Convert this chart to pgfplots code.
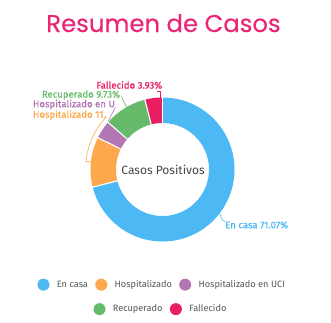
\documentclass[border=0pt]{standalone}
\usepackage{pgfplots}
\pgfplotsset{compat=1.18}
\usepackage{fontspec}
\setmainfont{Fira Sans}
\newfontfamily\titlefont{Poppins}[FakeBold=0.35]
\newfontfamily\labfont{Fira Sans}[FakeBold=0.6]
\definecolor{cblue}{HTML}{4CB8F4}
\definecolor{corange}{HTML}{FDA84C}
\definecolor{cpurple}{HTML}{B276B2}
\definecolor{cgreen}{HTML}{66BB6A}
\definecolor{cpink}{HTML}{E91E63}
\definecolor{ctitle}{HTML}{EC2577}
\definecolor{lgray}{HTML}{555555}
\definecolor{cgray}{HTML}{444444}
% percentages
\def\pA{71.07}\def\pB{11.20}\def\pC{4.07}\def\pD{9.73}\def\pE{3.93}
\pgfmathsetmacro\aA{90}
\pgfmathsetmacro\aB{\aA-3.6*\pA}
\pgfmathsetmacro\aC{\aB-3.6*\pB}
\pgfmathsetmacro\aD{\aC-3.6*\pC}
\pgfmathsetmacro\aE{\aD-3.6*\pD}
\pgfmathsetmacro\aF{\aE-3.6*\pE}
\def\cx{162.5}\def\cy{169.5}\def\rmid{59.25}
\newcommand\sep[1]{\draw[white, line width=1.1pt] (axis cs:{\cx+46*cos(#1)},{\cy-46*sin(#1)}) -- (axis cs:{\cx+73*cos(#1)},{\cy-73*sin(#1)});}
\pgfplotsset{
  mylegend/.style={
    legend style={draw=none, fill=none, inner sep=0pt, column sep=0pt, row sep=0pt,
      nodes={inner sep=0pt, text=lgray, font=\fontsize{9.2}{10}\selectfont}},
    legend cell align=left,
    legend image code/.code={\path[draw=none, fill=none] (0pt,-4pt) rectangle (26.7pt,4pt); \fill[##1, draw=none] (13.3pt,0pt) circle (6pt);},
  }
}
\begin{document}
\begin{tikzpicture}
\useasboundingbox (0,0) rectangle (331pt,322pt);
\begin{axis}[at={(0,0)}, anchor=south west, scale only axis, width=331pt, height=322pt,
  xmin=0, xmax=331, ymin=0, ymax=322, y dir=reverse, hide axis, clip=false,
  mylegend, legend columns=3,
  legend style={anchor=west, at={(0.0906,0.116)}}]
\addplot[forget plot, cblue, line width=25.5pt, domain=\aB:\aA, samples=120] ({\cx+\rmid*cos(x)},{\cy-\rmid*sin(x)});
\addplot[forget plot, corange, line width=25.5pt, domain=\aC:\aB, samples=30] ({\cx+\rmid*cos(x)},{\cy-\rmid*sin(x)});
\addplot[forget plot, cpurple, line width=25.5pt, domain=\aD:\aC, samples=15] ({\cx+\rmid*cos(x)},{\cy-\rmid*sin(x)});
\addplot[forget plot, cgreen, line width=25.5pt, domain=\aE:\aD, samples=30] ({\cx+\rmid*cos(x)},{\cy-\rmid*sin(x)});
\addplot[forget plot, cpink, line width=25.5pt, domain=\aF:\aE, samples=15] ({\cx+\rmid*cos(x)},{\cy-\rmid*sin(x)});
\sep{\aA}\sep{\aB}\sep{\aC}\sep{\aD}\sep{\aE}
% leaders
\draw[cpink, line width=0.6pt] (axis cs:156.5,91) -- (axis cs:160,91) -- (axis cs:160,98);
\draw[cgreen, line width=0.6pt] (axis cs:121.5,96.5) -- (axis cs:126.5,107);
\draw[cpurple, line width=0.6pt] (axis cs:115.5,107) -- (axis cs:108,121.5);
\draw[corange, line width=0.6pt] (axis cs:103.5,117) -- (axis cs:{\cx+77*cos(137)},{\cy-77*sin(137)}) arc[start angle=137, end angle=174, radius=77pt] -- (axis cs:91,162);
\draw[cblue, line width=0.6pt] (axis cs:219.5,212.5) -- (axis cs:222,219.5) -- (axis cs:225,222);
% labels
\node[anchor=west, inner sep=0pt, text=cpink, font=\labfont\fontsize{9.6}{10}\selectfont] at (axis cs:96.3,85) {Fallecido 3.93\%};
\node[anchor=west, inner sep=0pt, text=cgreen, font=\labfont\fontsize{9.6}{10}\selectfont] at (axis cs:41.7,95) {Recuperado 9.73\%};
\node[anchor=west, inner sep=0pt, text=cpurple, font=\labfont\fontsize{9.6}{10}\selectfont] at (axis cs:32.7,104.5) {Hospitalizado en U};
\node[anchor=west, inner sep=0pt, text=corange, font=\labfont\fontsize{9.6}{10}\selectfont] at (axis cs:32.7,115) {Hospitalizado 11};
\node[anchor=west, inner sep=0pt, text=cblue, font=\labfont\fontsize{9.6}{10}\selectfont] at (axis cs:225,225) {En casa 71.07\%};
\node[inner sep=0pt, text=cgray, font=\fontsize{12}{14}\selectfont] at (axis cs:163,170) {Casos Positivos};
% title
\node[anchor=base, inner sep=0pt, text=ctitle, font=\titlefont\fontsize{24.3}{28}\selectfont] at (axis cs:163.5,32) {Resumen de Casos};
% legend row 1
\addlegendimage{cblue}\addlegendentry{En casa}
\addlegendimage{corange}\addlegendentry{Hospitalizado}
\addlegendimage{cpurple}\addlegendentry{Hospitalizado en UCI}
\end{axis}
\begin{axis}[at={(0,0)}, anchor=south west, scale only axis, width=331pt, height=322pt,
  xmin=0, xmax=331, ymin=0, ymax=322, hide axis, clip=false,
  mylegend, legend columns=2,
  legend style={anchor=west, at={(0.2598,0.040)}}]
\addplot[forget plot, draw=none] coordinates {(0,0)};
\addlegendimage{cgreen}\addlegendentry{Recuperado}
\addlegendimage{cpink}\addlegendentry{Fallecido}
\end{axis}
\end{tikzpicture}
\end{document}
